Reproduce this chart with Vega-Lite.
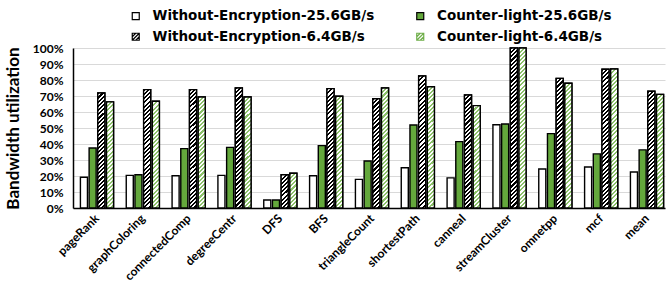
{
  "$schema": "https://vega.github.io/schema/vega-lite/v6.json",
  "width": 592,
  "height": 160,
  "autosize": {"type": "none"},
  "padding": {"left": 73, "top": 48, "right": 3, "bottom": 100},
  "background": "white",
  "config": {
    "font": "Lato",
    "view": {"stroke": null},
    "axis": {"labelFont": "Lato", "titleFont": "Lato", "labelColor": "black", "titleColor": "black", "labelFontWeight": "bold", "titleFontWeight": "bold"},
    "legend": {"labelFont": "DejaVu Sans", "labelFontWeight": "bold", "labelColor": "black"}
  },
  "params": [
    {"name": "stK", "value": [
      {"offset":0,"color":"#000"},{"offset":0.0125,"color":"#000"},{"offset":0.0125,"color":"#fff"},{"offset":0.025,"color":"#fff"},
      {"offset":0.025,"color":"#000"},{"offset":0.0375,"color":"#000"},{"offset":0.0375,"color":"#fff"},{"offset":0.05,"color":"#fff"},
      {"offset":0.05,"color":"#000"},{"offset":0.0625,"color":"#000"},{"offset":0.0625,"color":"#fff"},{"offset":0.075,"color":"#fff"},
      {"offset":0.075,"color":"#000"},{"offset":0.0875,"color":"#000"},{"offset":0.0875,"color":"#fff"},{"offset":0.1,"color":"#fff"},
      {"offset":0.1,"color":"#000"},{"offset":0.1125,"color":"#000"},{"offset":0.1125,"color":"#fff"},{"offset":0.125,"color":"#fff"},
      {"offset":0.125,"color":"#000"},{"offset":0.1375,"color":"#000"},{"offset":0.1375,"color":"#fff"},{"offset":0.15,"color":"#fff"},
      {"offset":0.15,"color":"#000"},{"offset":0.1625,"color":"#000"},{"offset":0.1625,"color":"#fff"},{"offset":0.175,"color":"#fff"},
      {"offset":0.175,"color":"#000"},{"offset":0.1875,"color":"#000"},{"offset":0.1875,"color":"#fff"},{"offset":0.2,"color":"#fff"},
      {"offset":0.2,"color":"#000"},{"offset":0.2125,"color":"#000"},{"offset":0.2125,"color":"#fff"},{"offset":0.225,"color":"#fff"},
      {"offset":0.225,"color":"#000"},{"offset":0.2375,"color":"#000"},{"offset":0.2375,"color":"#fff"},{"offset":0.25,"color":"#fff"},
      {"offset":0.25,"color":"#000"},{"offset":0.2625,"color":"#000"},{"offset":0.2625,"color":"#fff"},{"offset":0.275,"color":"#fff"},
      {"offset":0.275,"color":"#000"},{"offset":0.2875,"color":"#000"},{"offset":0.2875,"color":"#fff"},{"offset":0.3,"color":"#fff"},
      {"offset":0.3,"color":"#000"},{"offset":0.3125,"color":"#000"},{"offset":0.3125,"color":"#fff"},{"offset":0.325,"color":"#fff"},
      {"offset":0.325,"color":"#000"},{"offset":0.3375,"color":"#000"},{"offset":0.3375,"color":"#fff"},{"offset":0.35,"color":"#fff"},
      {"offset":0.35,"color":"#000"},{"offset":0.3625,"color":"#000"},{"offset":0.3625,"color":"#fff"},{"offset":0.375,"color":"#fff"},
      {"offset":0.375,"color":"#000"},{"offset":0.3875,"color":"#000"},{"offset":0.3875,"color":"#fff"},{"offset":0.4,"color":"#fff"},
      {"offset":0.4,"color":"#000"},{"offset":0.4125,"color":"#000"},{"offset":0.4125,"color":"#fff"},{"offset":0.425,"color":"#fff"},
      {"offset":0.425,"color":"#000"},{"offset":0.4375,"color":"#000"},{"offset":0.4375,"color":"#fff"},{"offset":0.45,"color":"#fff"},
      {"offset":0.45,"color":"#000"},{"offset":0.4625,"color":"#000"},{"offset":0.4625,"color":"#fff"},{"offset":0.475,"color":"#fff"},
      {"offset":0.475,"color":"#000"},{"offset":0.4875,"color":"#000"},{"offset":0.4875,"color":"#fff"},{"offset":0.5,"color":"#fff"},
      {"offset":0.5,"color":"#000"},{"offset":0.5125,"color":"#000"},{"offset":0.5125,"color":"#fff"},{"offset":0.525,"color":"#fff"},
      {"offset":0.525,"color":"#000"},{"offset":0.5375,"color":"#000"},{"offset":0.5375,"color":"#fff"},{"offset":0.55,"color":"#fff"},
      {"offset":0.55,"color":"#000"},{"offset":0.5625,"color":"#000"},{"offset":0.5625,"color":"#fff"},{"offset":0.575,"color":"#fff"},
      {"offset":0.575,"color":"#000"},{"offset":0.5875,"color":"#000"},{"offset":0.5875,"color":"#fff"},{"offset":0.6,"color":"#fff"},
      {"offset":0.6,"color":"#000"},{"offset":0.6125,"color":"#000"},{"offset":0.6125,"color":"#fff"},{"offset":0.625,"color":"#fff"},
      {"offset":0.625,"color":"#000"},{"offset":0.6375,"color":"#000"},{"offset":0.6375,"color":"#fff"},{"offset":0.65,"color":"#fff"},
      {"offset":0.65,"color":"#000"},{"offset":0.6625,"color":"#000"},{"offset":0.6625,"color":"#fff"},{"offset":0.675,"color":"#fff"},
      {"offset":0.675,"color":"#000"},{"offset":0.6875,"color":"#000"},{"offset":0.6875,"color":"#fff"},{"offset":0.7,"color":"#fff"},
      {"offset":0.7,"color":"#000"},{"offset":0.7125,"color":"#000"},{"offset":0.7125,"color":"#fff"},{"offset":0.725,"color":"#fff"},
      {"offset":0.725,"color":"#000"},{"offset":0.7375,"color":"#000"},{"offset":0.7375,"color":"#fff"},{"offset":0.75,"color":"#fff"},
      {"offset":0.75,"color":"#000"},{"offset":0.7625,"color":"#000"},{"offset":0.7625,"color":"#fff"},{"offset":0.775,"color":"#fff"},
      {"offset":0.775,"color":"#000"},{"offset":0.7875,"color":"#000"},{"offset":0.7875,"color":"#fff"},{"offset":0.8,"color":"#fff"},
      {"offset":0.8,"color":"#000"},{"offset":0.8125,"color":"#000"},{"offset":0.8125,"color":"#fff"},{"offset":0.825,"color":"#fff"},
      {"offset":0.825,"color":"#000"},{"offset":0.8375,"color":"#000"},{"offset":0.8375,"color":"#fff"},{"offset":0.85,"color":"#fff"},
      {"offset":0.85,"color":"#000"},{"offset":0.8625,"color":"#000"},{"offset":0.8625,"color":"#fff"},{"offset":0.875,"color":"#fff"},
      {"offset":0.875,"color":"#000"},{"offset":0.8875,"color":"#000"},{"offset":0.8875,"color":"#fff"},{"offset":0.9,"color":"#fff"},
      {"offset":0.9,"color":"#000"},{"offset":0.9125,"color":"#000"},{"offset":0.9125,"color":"#fff"},{"offset":0.925,"color":"#fff"},
      {"offset":0.925,"color":"#000"},{"offset":0.9375,"color":"#000"},{"offset":0.9375,"color":"#fff"},{"offset":0.95,"color":"#fff"},
      {"offset":0.95,"color":"#000"},{"offset":0.9625,"color":"#000"},{"offset":0.9625,"color":"#fff"},{"offset":0.975,"color":"#fff"},
      {"offset":0.975,"color":"#000"},{"offset":0.9875,"color":"#000"},{"offset":0.9875,"color":"#fff"},{"offset":1,"color":"#fff"}
    ]},
    {"name": "stG", "value": [
      {"offset":0,"color":"#8cc26a"},{"offset":0.0125,"color":"#8cc26a"},{"offset":0.0125,"color":"#fff"},{"offset":0.025,"color":"#fff"},
      {"offset":0.025,"color":"#8cc26a"},{"offset":0.0375,"color":"#8cc26a"},{"offset":0.0375,"color":"#fff"},{"offset":0.05,"color":"#fff"},
      {"offset":0.05,"color":"#8cc26a"},{"offset":0.0625,"color":"#8cc26a"},{"offset":0.0625,"color":"#fff"},{"offset":0.075,"color":"#fff"},
      {"offset":0.075,"color":"#8cc26a"},{"offset":0.0875,"color":"#8cc26a"},{"offset":0.0875,"color":"#fff"},{"offset":0.1,"color":"#fff"},
      {"offset":0.1,"color":"#8cc26a"},{"offset":0.1125,"color":"#8cc26a"},{"offset":0.1125,"color":"#fff"},{"offset":0.125,"color":"#fff"},
      {"offset":0.125,"color":"#8cc26a"},{"offset":0.1375,"color":"#8cc26a"},{"offset":0.1375,"color":"#fff"},{"offset":0.15,"color":"#fff"},
      {"offset":0.15,"color":"#8cc26a"},{"offset":0.1625,"color":"#8cc26a"},{"offset":0.1625,"color":"#fff"},{"offset":0.175,"color":"#fff"},
      {"offset":0.175,"color":"#8cc26a"},{"offset":0.1875,"color":"#8cc26a"},{"offset":0.1875,"color":"#fff"},{"offset":0.2,"color":"#fff"},
      {"offset":0.2,"color":"#8cc26a"},{"offset":0.2125,"color":"#8cc26a"},{"offset":0.2125,"color":"#fff"},{"offset":0.225,"color":"#fff"},
      {"offset":0.225,"color":"#8cc26a"},{"offset":0.2375,"color":"#8cc26a"},{"offset":0.2375,"color":"#fff"},{"offset":0.25,"color":"#fff"},
      {"offset":0.25,"color":"#8cc26a"},{"offset":0.2625,"color":"#8cc26a"},{"offset":0.2625,"color":"#fff"},{"offset":0.275,"color":"#fff"},
      {"offset":0.275,"color":"#8cc26a"},{"offset":0.2875,"color":"#8cc26a"},{"offset":0.2875,"color":"#fff"},{"offset":0.3,"color":"#fff"},
      {"offset":0.3,"color":"#8cc26a"},{"offset":0.3125,"color":"#8cc26a"},{"offset":0.3125,"color":"#fff"},{"offset":0.325,"color":"#fff"},
      {"offset":0.325,"color":"#8cc26a"},{"offset":0.3375,"color":"#8cc26a"},{"offset":0.3375,"color":"#fff"},{"offset":0.35,"color":"#fff"},
      {"offset":0.35,"color":"#8cc26a"},{"offset":0.3625,"color":"#8cc26a"},{"offset":0.3625,"color":"#fff"},{"offset":0.375,"color":"#fff"},
      {"offset":0.375,"color":"#8cc26a"},{"offset":0.3875,"color":"#8cc26a"},{"offset":0.3875,"color":"#fff"},{"offset":0.4,"color":"#fff"},
      {"offset":0.4,"color":"#8cc26a"},{"offset":0.4125,"color":"#8cc26a"},{"offset":0.4125,"color":"#fff"},{"offset":0.425,"color":"#fff"},
      {"offset":0.425,"color":"#8cc26a"},{"offset":0.4375,"color":"#8cc26a"},{"offset":0.4375,"color":"#fff"},{"offset":0.45,"color":"#fff"},
      {"offset":0.45,"color":"#8cc26a"},{"offset":0.4625,"color":"#8cc26a"},{"offset":0.4625,"color":"#fff"},{"offset":0.475,"color":"#fff"},
      {"offset":0.475,"color":"#8cc26a"},{"offset":0.4875,"color":"#8cc26a"},{"offset":0.4875,"color":"#fff"},{"offset":0.5,"color":"#fff"},
      {"offset":0.5,"color":"#8cc26a"},{"offset":0.5125,"color":"#8cc26a"},{"offset":0.5125,"color":"#fff"},{"offset":0.525,"color":"#fff"},
      {"offset":0.525,"color":"#8cc26a"},{"offset":0.5375,"color":"#8cc26a"},{"offset":0.5375,"color":"#fff"},{"offset":0.55,"color":"#fff"},
      {"offset":0.55,"color":"#8cc26a"},{"offset":0.5625,"color":"#8cc26a"},{"offset":0.5625,"color":"#fff"},{"offset":0.575,"color":"#fff"},
      {"offset":0.575,"color":"#8cc26a"},{"offset":0.5875,"color":"#8cc26a"},{"offset":0.5875,"color":"#fff"},{"offset":0.6,"color":"#fff"},
      {"offset":0.6,"color":"#8cc26a"},{"offset":0.6125,"color":"#8cc26a"},{"offset":0.6125,"color":"#fff"},{"offset":0.625,"color":"#fff"},
      {"offset":0.625,"color":"#8cc26a"},{"offset":0.6375,"color":"#8cc26a"},{"offset":0.6375,"color":"#fff"},{"offset":0.65,"color":"#fff"},
      {"offset":0.65,"color":"#8cc26a"},{"offset":0.6625,"color":"#8cc26a"},{"offset":0.6625,"color":"#fff"},{"offset":0.675,"color":"#fff"},
      {"offset":0.675,"color":"#8cc26a"},{"offset":0.6875,"color":"#8cc26a"},{"offset":0.6875,"color":"#fff"},{"offset":0.7,"color":"#fff"},
      {"offset":0.7,"color":"#8cc26a"},{"offset":0.7125,"color":"#8cc26a"},{"offset":0.7125,"color":"#fff"},{"offset":0.725,"color":"#fff"},
      {"offset":0.725,"color":"#8cc26a"},{"offset":0.7375,"color":"#8cc26a"},{"offset":0.7375,"color":"#fff"},{"offset":0.75,"color":"#fff"},
      {"offset":0.75,"color":"#8cc26a"},{"offset":0.7625,"color":"#8cc26a"},{"offset":0.7625,"color":"#fff"},{"offset":0.775,"color":"#fff"},
      {"offset":0.775,"color":"#8cc26a"},{"offset":0.7875,"color":"#8cc26a"},{"offset":0.7875,"color":"#fff"},{"offset":0.8,"color":"#fff"},
      {"offset":0.8,"color":"#8cc26a"},{"offset":0.8125,"color":"#8cc26a"},{"offset":0.8125,"color":"#fff"},{"offset":0.825,"color":"#fff"},
      {"offset":0.825,"color":"#8cc26a"},{"offset":0.8375,"color":"#8cc26a"},{"offset":0.8375,"color":"#fff"},{"offset":0.85,"color":"#fff"},
      {"offset":0.85,"color":"#8cc26a"},{"offset":0.8625,"color":"#8cc26a"},{"offset":0.8625,"color":"#fff"},{"offset":0.875,"color":"#fff"},
      {"offset":0.875,"color":"#8cc26a"},{"offset":0.8875,"color":"#8cc26a"},{"offset":0.8875,"color":"#fff"},{"offset":0.9,"color":"#fff"},
      {"offset":0.9,"color":"#8cc26a"},{"offset":0.9125,"color":"#8cc26a"},{"offset":0.9125,"color":"#fff"},{"offset":0.925,"color":"#fff"},
      {"offset":0.925,"color":"#8cc26a"},{"offset":0.9375,"color":"#8cc26a"},{"offset":0.9375,"color":"#fff"},{"offset":0.95,"color":"#fff"},
      {"offset":0.95,"color":"#8cc26a"},{"offset":0.9625,"color":"#8cc26a"},{"offset":0.9625,"color":"#fff"},{"offset":0.975,"color":"#fff"},
      {"offset":0.975,"color":"#8cc26a"},{"offset":0.9875,"color":"#8cc26a"},{"offset":0.9875,"color":"#fff"},{"offset":1,"color":"#fff"}
    ]}
  ],
  "data": {"values": [
    {"workload":"pageRank","config":"Without-Encryption-25.6GB/s","util":19.2},
    {"workload":"pageRank","config":"Counter-light-25.6GB/s","util":37.5},
    {"workload":"pageRank","config":"Without-Encryption-6.4GB/s","util":71.9},
    {"workload":"pageRank","config":"Counter-light-6.4GB/s","util":66.3},
    {"workload":"graphColoring","config":"Without-Encryption-25.6GB/s","util":20.4},
    {"workload":"graphColoring","config":"Counter-light-25.6GB/s","util":20.8},
    {"workload":"graphColoring","config":"Without-Encryption-6.4GB/s","util":74.0},
    {"workload":"graphColoring","config":"Counter-light-6.4GB/s","util":66.7},
    {"workload":"connectedComp","config":"Without-Encryption-25.6GB/s","util":20.2},
    {"workload":"connectedComp","config":"Counter-light-25.6GB/s","util":37.1},
    {"workload":"connectedComp","config":"Without-Encryption-6.4GB/s","util":74.0},
    {"workload":"connectedComp","config":"Counter-light-6.4GB/s","util":69.4},
    {"workload":"degreeCentr","config":"Without-Encryption-25.6GB/s","util":20.4},
    {"workload":"degreeCentr","config":"Counter-light-25.6GB/s","util":37.9},
    {"workload":"degreeCentr","config":"Without-Encryption-6.4GB/s","util":75.0},
    {"workload":"degreeCentr","config":"Counter-light-6.4GB/s","util":69.4},
    {"workload":"DFS","config":"Without-Encryption-25.6GB/s","util":5.0},
    {"workload":"DFS","config":"Counter-light-25.6GB/s","util":5.0},
    {"workload":"DFS","config":"Without-Encryption-6.4GB/s","util":20.8},
    {"workload":"DFS","config":"Counter-light-6.4GB/s","util":21.7},
    {"workload":"BFS","config":"Without-Encryption-25.6GB/s","util":20.2},
    {"workload":"BFS","config":"Counter-light-25.6GB/s","util":39.0},
    {"workload":"BFS","config":"Without-Encryption-6.4GB/s","util":74.6},
    {"workload":"BFS","config":"Counter-light-6.4GB/s","util":69.8},
    {"workload":"triangleCount","config":"Without-Encryption-25.6GB/s","util":17.9},
    {"workload":"triangleCount","config":"Counter-light-25.6GB/s","util":29.4},
    {"workload":"triangleCount","config":"Without-Encryption-6.4GB/s","util":68.3},
    {"workload":"triangleCount","config":"Counter-light-6.4GB/s","util":75.0},
    {"workload":"shortestPath","config":"Without-Encryption-25.6GB/s","util":25.2},
    {"workload":"shortestPath","config":"Counter-light-25.6GB/s","util":51.9},
    {"workload":"shortestPath","config":"Without-Encryption-6.4GB/s","util":82.5},
    {"workload":"shortestPath","config":"Counter-light-6.4GB/s","util":75.8},
    {"workload":"canneal","config":"Without-Encryption-25.6GB/s","util":18.8},
    {"workload":"canneal","config":"Counter-light-25.6GB/s","util":41.5},
    {"workload":"canneal","config":"Without-Encryption-6.4GB/s","util":70.6},
    {"workload":"canneal","config":"Counter-light-6.4GB/s","util":64.0},
    {"workload":"streamCluster","config":"Without-Encryption-25.6GB/s","util":52.0},
    {"workload":"streamCluster","config":"Counter-light-25.6GB/s","util":52.5},
    {"workload":"streamCluster","config":"Without-Encryption-6.4GB/s","util":100},
    {"workload":"streamCluster","config":"Counter-light-6.4GB/s","util":100},
    {"workload":"omnetpp","config":"Without-Encryption-25.6GB/s","util":24.4},
    {"workload":"omnetpp","config":"Counter-light-25.6GB/s","util":46.5},
    {"workload":"omnetpp","config":"Without-Encryption-6.4GB/s","util":81.0},
    {"workload":"omnetpp","config":"Counter-light-6.4GB/s","util":78.0},
    {"workload":"mcf","config":"Without-Encryption-25.6GB/s","util":25.6},
    {"workload":"mcf","config":"Counter-light-25.6GB/s","util":33.8},
    {"workload":"mcf","config":"Without-Encryption-6.4GB/s","util":86.7},
    {"workload":"mcf","config":"Counter-light-6.4GB/s","util":86.9},
    {"workload":"mean","config":"Without-Encryption-25.6GB/s","util":22.5},
    {"workload":"mean","config":"Counter-light-25.6GB/s","util":36.3},
    {"workload":"mean","config":"Without-Encryption-6.4GB/s","util":73.0},
    {"workload":"mean","config":"Counter-light-6.4GB/s","util":71.0}
  ]},
  "encoding": {
    "x": {
      "field": "workload", "type": "nominal", "sort": null,
      "scale": {"domain": ["pageRank","graphColoring","connectedComp","degreeCentr","DFS","BFS","triangleCount","shortestPath","canneal","streamCluster","omnetpp","mcf","mean"], "paddingInner": 0.258, "paddingOuter": 0.087, "align": 0.875},
      "axis": {"title": null, "labelAngle": -45, "labelAlign": "right", "labelBaseline": "middle", "labelFontSize": 12, "labelPadding": 8, "ticks": false, "domainColor": "black", "domainWidth": 1.5, "grid": false}
    },
    "xOffset": {
      "field": "config", "type": "nominal", "sort": null,
      "scale": {"domain": ["Without-Encryption-25.6GB/s","Counter-light-25.6GB/s","Without-Encryption-6.4GB/s","Counter-light-6.4GB/s"], "paddingInner": 0.19, "paddingOuter": 0.05}
    },
    "y": {
      "field": "util", "type": "quantitative",
      "scale": {"domain": [0, 100], "nice": false},
      "axis": {"title": "Bandwidth utilization", "titleFontSize": 17, "titlePadding": 10, "values": [0,10,20,30,40,50,60,70,80,90,100], "labelExpr": "datum.value + '%'", "labelFontSize": 12, "labelPadding": 10, "ticks": false, "domainColor": "black", "domainWidth": 1.5, "gridColor": "#d9d9d9", "gridWidth": 1}
    }
  },
  "layer": [
    {
      "mark": {"type": "bar", "stroke": "black", "strokeWidth": 1.4, "fill": {"expr": "datum.config === 'Counter-light-25.6GB/s' ? '#64a83c' : '#ffffff'"}}
    },
    {
      "transform": [{"filter": "indexof(datum.config, '6.4GB') >= 0"}],
      "mark": {
        "type": "bar", "stroke": "black", "strokeWidth": 1.4,
        "fill": {"expr": "{gradient: 'linear', x1: 0, y1: 0, x2: 1176 / (pow(datum.util * height / 100, 2) + 49), y2: 168 * (datum.util * height / 100) / (pow(datum.util * height / 100, 2) + 49), stops: (indexof(datum.config, 'Counter') >= 0 ? stG : stK)}"}
      }
    },
    {
      "mark": {"type": "point", "filled": false, "opacity": 0, "size": 0, "strokeWidth": 1.2},
      "encoding": {
        "fill": {
          "field": "config", "type": "nominal",
          "scale": {"domain": ["Without-Encryption-25.6GB/s","Without-Encryption-6.4GB/s","Counter-light-25.6GB/s","Counter-light-6.4GB/s"], "range": ["#ffffff","#ffffff","#64a83c","#ffffff"]},
          "legend": {"orient": "none", "legendX": 56, "legendY": -39, "columns": 2, "title": null, "symbolSize": 49, "symbolStrokeWidth": 1.2, "symbolOpacity": 1, "labelFontSize": 13.5, "labelOffset": 10, "labelLimit": 400, "columnPadding": 38.5, "rowPadding": 6}
        },
        "shape": {
          "field": "config", "type": "nominal",
          "scale": {"domain": ["Without-Encryption-25.6GB/s","Without-Encryption-6.4GB/s","Counter-light-25.6GB/s","Counter-light-6.4GB/s"], "range": ["square", "M-1,-1H1V1H-1Z M-1,0L0,-1 M-1,1L1,-1 M0,1L1,0", "square", "M-1,-1H1V1H-1Z M-1,0L0,-1 M-1,1L1,-1 M0,1L1,0"]},
          "legend": {"orient": "none", "legendX": 56, "legendY": -39, "columns": 2, "title": null, "symbolSize": 49, "symbolStrokeWidth": 1.2, "symbolOpacity": 1, "labelFontSize": 13.5, "labelOffset": 10, "labelLimit": 400, "columnPadding": 38.5, "rowPadding": 6}
        },
        "stroke": {
          "field": "config", "type": "nominal",
          "scale": {"domain": ["Without-Encryption-25.6GB/s","Without-Encryption-6.4GB/s","Counter-light-25.6GB/s","Counter-light-6.4GB/s"], "range": ["#000000","#000000","#000000","#6fae4a"]},
          "legend": {"orient": "none", "legendX": 56, "legendY": -39, "columns": 2, "title": null, "symbolSize": 49, "symbolStrokeWidth": 1.2, "symbolOpacity": 1, "labelFontSize": 13.5, "labelOffset": 10, "labelLimit": 400, "columnPadding": 38.5, "rowPadding": 6}
        }
      }
    }
  ]
}
